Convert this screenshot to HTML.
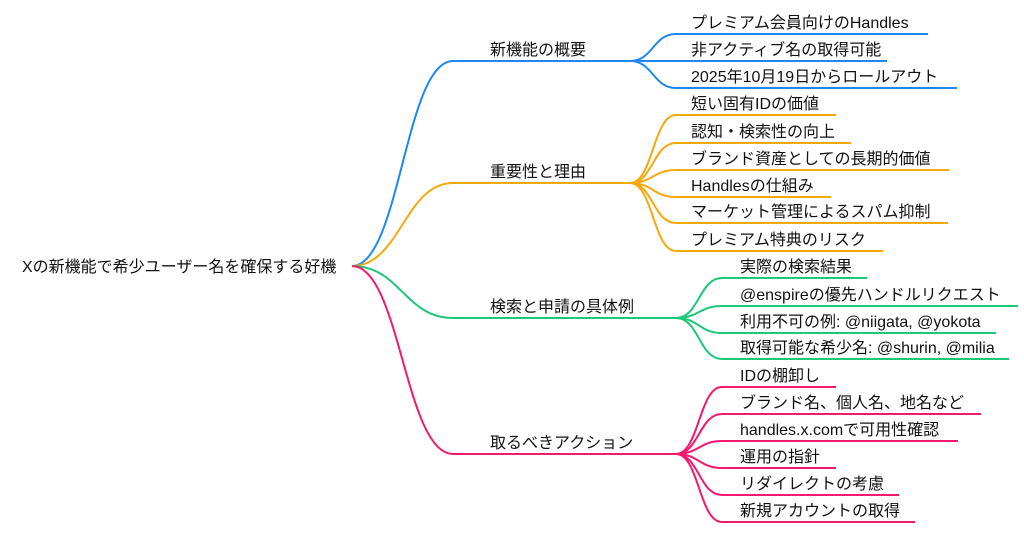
<!DOCTYPE html>
<html><head><meta charset="utf-8"><style>
html,body{margin:0;padding:0;background:#fff;}
svg{display:block;}
text{font-family:"Liberation Sans","Noto Sans CJK JP",sans-serif;font-size:16px;fill:#111;}
</style></head><body>
<svg width="1024" height="533" viewBox="0 0 1024 533" xmlns="http://www.w3.org/2000/svg">
<g fill="none" stroke-width="2">
<path d="M352,266 C400,266 405,61 453,61 L630,61" stroke="#1e88f0"/>
<path d="M352,266 C400,266 405,183 453,183 L630,183" stroke="#f5a90f"/>
<path d="M352,266 C400,266 405,318 453,318 L676,318" stroke="#1ec878"/>
<path d="M352,266 C400,266 405,454 453,454 L676,454" stroke="#f5196e"/>
<g stroke="#1e88f0">
<path d="M630,61 C653,61 653,34 676,34 L928,34"/>
<path d="M630,61 L887,61"/>
<path d="M630,61 C653,61 653,88 676,88 L957,88"/>
</g>
<g stroke="#f5a90f">
<path d="M630,183 C653,183 653,115 676,115 L836,115"/>
<path d="M630,183 C653,183 653,143 676,143 L851,143"/>
<path d="M630,183 C653,183 653,170 676,170 L949,170"/>
<path d="M630,183 C653,183 653,197 676,197 L831,197"/>
<path d="M630,183 C653,183 653,223 676,223 L948,223"/>
<path d="M630,183 C653,183 653,251 676,251 L883,251"/>
</g>
<g stroke="#1ec878">
<path d="M676,318 C699,318 699,278 722,278 L867,278"/>
<path d="M676,318 C699,318 699,306 722,306 L1018,306"/>
<path d="M676,318 C699,318 699,333 722,333 L996,333"/>
<path d="M676,318 C699,318 699,359 722,359 L1009,359"/>
</g>
<g stroke="#f5196e">
<path d="M676,454 C699,454 699,387 722,387 L836,387"/>
<path d="M676,454 C699,454 699,414 722,414 L981,414"/>
<path d="M676,454 C699,454 699,441 722,441 L958,441"/>
<path d="M676,454 C699,454 699,468 722,468 L836,468"/>
<path d="M676,454 C699,454 699,495 722,495 L899,495"/>
<path d="M676,454 C699,454 699,522 722,522 L915,522"/>
</g>
</g>
<text x="22" y="272">Xの新機能で希少ユーザー名を確保する好機</text>
<text x="490" y="55">新機能の概要</text>
<text x="490" y="177">重要性と理由</text>
<text x="490" y="312">検索と申請の具体例</text>
<text x="490" y="448">取るべきアクション</text>

<text x="691" y="28">プレミアム会員向けのHandles</text>
<text x="691" y="55">非アクティブ名の取得可能</text>
<text x="691" y="82">2025年10月19日からロールアウト</text>

<text x="691" y="109">短い固有IDの価値</text>
<text x="691" y="137">認知・検索性の向上</text>
<text x="691" y="164">ブランド資産としての長期的価値</text>
<text x="691" y="191">Handlesの仕組み</text>
<text x="691" y="217">マーケット管理によるスパム抑制</text>
<text x="691" y="245">プレミアム特典のリスク</text>

<text x="740" y="272">実際の検索結果</text>
<text x="740" y="300">@enspireの優先ハンドルリクエスト</text>
<text x="740" y="327">利用不可の例: @niigata, @yokota</text>
<text x="740" y="353">取得可能な希少名: @shurin, @milia</text>

<text x="740" y="381">IDの棚卸し</text>
<text x="740" y="408">ブランド名、個人名、地名など</text>
<text x="740" y="435">handles.x.comで可用性確認</text>
<text x="740" y="462">運用の指針</text>
<text x="740" y="489">リダイレクトの考慮</text>
<text x="740" y="516">新規アカウントの取得</text>
</svg>
</body></html>
